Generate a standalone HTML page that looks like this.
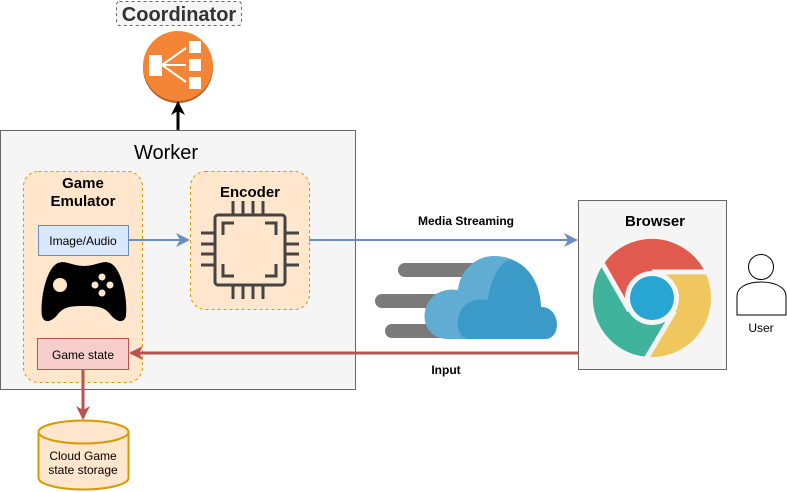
<!DOCTYPE html>
<html><head><meta charset="utf-8"><style>
html,body{margin:0;padding:0;background:#fff;}
svg{display:block;font-family:"Liberation Sans",Arial,sans-serif;}
</style></head><body>
<svg width="787" height="492" viewBox="0 0 787 492" xmlns="http://www.w3.org/2000/svg">
<defs>
<marker id="ab" markerWidth="14" markerHeight="14" refX="12" refY="7" orient="auto" markerUnits="userSpaceOnUse"><path d="M0,0 L14,7 L0,14 L4,7 Z" fill="#6c8ebf"/></marker>
<marker id="ar" markerWidth="14" markerHeight="14" refX="12" refY="7" orient="auto" markerUnits="userSpaceOnUse"><path d="M0,0 L14,7 L0,14 L4,7 Z" fill="#b85450"/></marker>
<marker id="ak" markerWidth="14" markerHeight="14" refX="12" refY="7" orient="auto" markerUnits="userSpaceOnUse"><path d="M0,0 L14,7 L0,14 L4,7 Z" fill="#000"/></marker>
</defs>
<!-- Coordinator -->
<rect x="116.5" y="1.5" width="125" height="24" rx="3" fill="#f5f5f5" stroke="#666" stroke-dasharray="3 3"/>
<text x="179" y="21" font-size="20" font-weight="bold" fill="#333" text-anchor="middle">Coordinator</text>
<circle cx="178" cy="68" r="35" fill="#b35c1f"/>
<circle cx="178" cy="66" r="35" fill="#f58536"/>
<rect x="149" y="55" width="13" height="21" fill="#fff"/>
<rect x="189" y="41" width="12" height="12" fill="#fff"/>
<rect x="189" y="59" width="12" height="12" fill="#fff"/>
<rect x="189" y="77" width="12" height="12" fill="#fff"/>
<path d="M162,65 L186,48 M162,65 L186,65 M162,65 L186,82" stroke="#fff" stroke-width="2"/>
<line x1="178" y1="130" x2="178" y2="103" stroke="#000" stroke-width="3" marker-end="url(#ak)"/>
<!-- Worker -->
<rect x="0.5" y="130.5" width="355" height="259" fill="#f5f5f5" stroke="#666"/>
<text x="166" y="159" font-size="20" text-anchor="middle" fill="#000">Worker</text>
<!-- Game emulator -->
<rect x="23.5" y="171.5" width="119" height="211" rx="15" fill="#ffe6cc" stroke="#d79b00" stroke-dasharray="3 3"/>
<text x="83" y="188" font-size="15" font-weight="bold" text-anchor="middle">Game</text>
<text x="83" y="206" font-size="15" font-weight="bold" text-anchor="middle">Emulator</text>
<rect x="38.5" y="225.5" width="90" height="30" fill="#dae8fc" stroke="#6c8ebf"/>
<text x="83" y="245" font-size="12" text-anchor="middle">Image/Audio</text>
<!-- controller -->
<path d="M58,263 C66,260 72,266 84,266 C96,266 102,260 110,263 C122,268 128,300 126,316 C124,324 116,322 110,314 C104,307 98,306 84,306 C70,306 64,307 58,314 C52,322 44,324 42,316 C40,300 46,268 58,263 Z" fill="#000"/>
<circle cx="60" cy="285" r="7" fill="#ffe6cc"/>
<circle cx="102" cy="277" r="3.5" fill="#ffe6cc"/>
<circle cx="95" cy="285" r="3.5" fill="#ffe6cc"/>
<circle cx="110" cy="285" r="3.5" fill="#ffe6cc"/>
<circle cx="102" cy="293" r="3.5" fill="#ffe6cc"/>
<rect x="37.5" y="338.5" width="91" height="31" fill="#f8cecc" stroke="#b85450"/>
<text x="83" y="359" font-size="12" text-anchor="middle">Game state</text>
<!-- Encoder -->
<rect x="190.5" y="171.5" width="119" height="138" rx="15" fill="#ffe6cc" stroke="#d79b00" stroke-dasharray="3 3"/>
<text x="250" y="197" font-size="15" font-weight="bold" text-anchor="middle">Encoder</text>
<g stroke="#444" stroke-width="3" fill="none" stroke-linecap="butt">
<rect x="215" y="215" width="70" height="70" rx="3"/>
<path d="M233,201v13 M243,201v13 M253,201v13 M263,201v13 M233,286v13 M243,286v13 M253,286v13 M263,286v13"/>
<path d="M201,233h13 M201,244h13 M201,254h13 M201,265h13 M286,233h13 M286,244h13 M286,254h13 M286,265h13"/>
<path d="M234,223h-11v12 M265,223h11v12 M234,276h-11v-12 M265,276h11v-12"/>
</g>
<!-- arrows -->
<line x1="129" y1="240" x2="188" y2="240" stroke="#6c8ebf" stroke-width="2" marker-end="url(#ab)"/>
<line x1="309" y1="240" x2="576" y2="240" stroke="#6c8ebf" stroke-width="2" marker-end="url(#ab)"/>
<text x="466" y="225" font-size="12" font-weight="bold" text-anchor="middle">Media Streaming</text>
<line x1="578" y1="353" x2="131" y2="353" stroke="#b85450" stroke-width="3" marker-end="url(#ar)"/>
<text x="446" y="374" font-size="12" font-weight="bold" text-anchor="middle">Input</text>
<line x1="83" y1="369" x2="83" y2="418" stroke="#b85450" stroke-width="3" marker-end="url(#ar)"/>
<!-- Cylinder -->
<path d="M38.5,432 L38.5,478 A45,11.5 0 0 0 128.5,478 L128.5,432" fill="#ffe6cc" stroke="#d79b00" stroke-width="2"/>
<ellipse cx="83.5" cy="432" rx="45" ry="11.5" fill="#ffe6cc" stroke="#d79b00" stroke-width="2"/>
<text x="83" y="460" font-size="12" text-anchor="middle">Cloud Game</text>
<text x="83" y="474" font-size="12" text-anchor="middle">state storage</text>
<!-- cloud -->
<g stroke="#7a7a7a" stroke-width="14" stroke-linecap="round">
<line x1="405" y1="270" x2="480" y2="270"/>
<line x1="382" y1="301" x2="450" y2="301"/>
<line x1="392" y1="331" x2="450" y2="331"/>
</g>
<path d="M448,339 C428,339 420,320 427,305 C432,293 445,288 458,290 C460,270 476,256 494,256 C520,256 540,275 541,307 C555,307 560,323 555,333 C552,338 548,339 545,339 Z" fill="#60acd3"/>
<path d="M470,339 C458,339 455,325 460,312 C465,302 476,298 488,300 C490,280 500,262 510,260 C530,265 540,285 541,307 C555,307 560,323 555,333 C552,338 548,339 545,339 Z" fill="#3c9ac8"/>
<!-- Browser -->
<rect x="578.5" y="200.5" width="148" height="169" fill="#f5f5f5" stroke="#666"/>
<text x="655" y="226" font-size="15" font-weight="bold" text-anchor="middle">Browser</text>
<g transform="translate(652,298)">
<circle r="59" fill="#f0c75e"/>
<path d="M-49,-33 A59,59 0 0 1 53,-26 L0,-26 A26,26 0 0 0 -22.5,13 Z" fill="#e05a4f"/>
<path d="M-4,59 A59,59 0 0 1 -49,-33 L-22.5,13 A26,26 0 0 0 22.5,13 Z" fill="#3fb39b"/>
<path d="M0,-26 L56,-26 M-22.5,13 L-50,-35 M22.5,13 L-6,61" stroke="#f5f5f5" stroke-width="5"/>
<circle r="27" fill="#f5f5f5"/>
<circle r="22" fill="#27a5d3"/>
</g>
<!-- User -->
<circle cx="761" cy="267" r="12.5" fill="#fff" stroke="#000"/>
<path d="M737,315 L737,296 C737,288 746,282 761,282 C776,282 786,288 786,296 L786,315 Z" fill="#fff" stroke="#000"/>
<text x="761" y="332" font-size="12" text-anchor="middle">User</text>
</svg>
</body></html>
